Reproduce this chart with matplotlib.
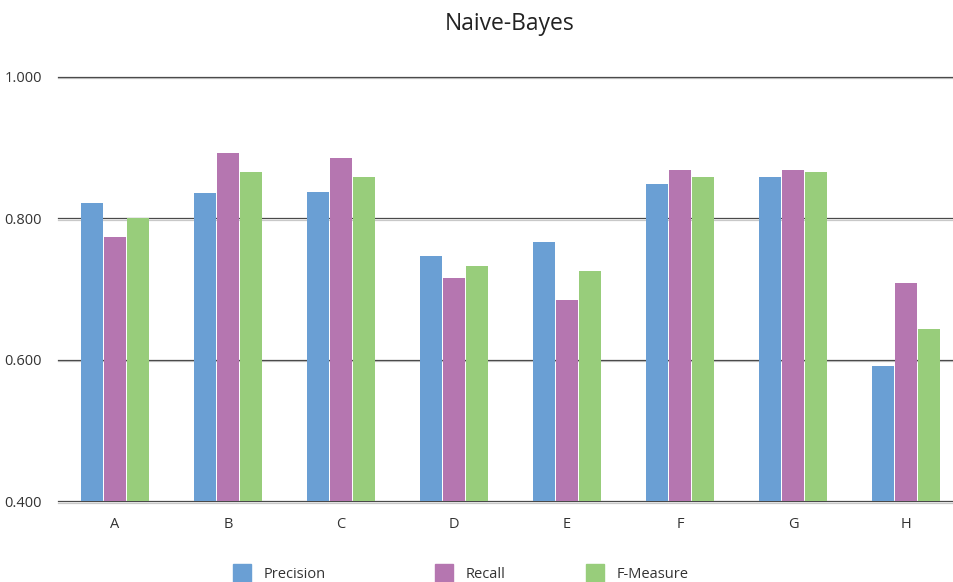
import matplotlib.pyplot as plt
from matplotlib.patches import Rectangle
import numpy as np

plt.rcParams["font.family"] = ["Open Sans", "DejaVu Sans"]

categories = ["A", "B", "C", "D", "E", "F", "G", "H"]
precision = [0.822, 0.836, 0.838, 0.747, 0.767, 0.849, 0.859, 0.592]
recall = [0.774, 0.893, 0.886, 0.716, 0.685, 0.868, 0.868, 0.709]
f_measure = [0.800, 0.866, 0.859, 0.733, 0.726, 0.859, 0.866, 0.643]
y_ticks = [0.4, 0.6, 0.8, 1.0]

series = [
    ("Precision", precision, "#6a9fd4"),
    ("Recall", recall, "#b576b0"),
    ("F-Measure", f_measure, "#98cd7b"),
]

fig = plt.figure(figsize=(9.54, 5.82), dpi=100)
# axes run past the right edge on purpose: last slot is clipped by the figure
ax = fig.add_axes([58.5 / 954, 80.7 / 582, 904 / 954, 424.3 / 582])

x = np.arange(len(categories))
step = 0.2
for i, (name, values, color) in enumerate(series):
    ax.bar(x + (i - 1) * step, np.array(values) - 0.4, bottom=0.4, width=0.193,
           color=color, edgecolor="none", zorder=3)

# grid lines: dark line with a faint shadow just under it
for y in y_ticks:
    ax.axhline(y - 0.0018, color="#c8c8c8", linewidth=0.9, zorder=1, clip_on=False)
    ax.axhline(y, color="#4a4a4a", linewidth=0.9, zorder=2, clip_on=False)

ax.set_xlim(-0.5, len(categories) - 0.5)
ax.set_ylim(0.4, 1.0)
ax.set_yticks(y_ticks)
ax.set_yticklabels([f"{v:.3f}" for v in y_ticks], fontsize=10.5, color="#333333")
ax.set_xticks(x)
ax.set_xticklabels(categories, fontsize=10.5, color="#333333")
ax.tick_params(axis="both", length=0)
ax.tick_params(axis="y", pad=12)
ax.tick_params(axis="x", pad=11)
for spine in ax.spines.values():
    spine.set_visible(False)

fig.text(510 / 954, 1 - 24 / 582, "Naive-Bayes", ha="center", va="center",
         fontsize=16.5, color="#222222")

# legend row along the bottom edge
legend_x = [233, 435, 586]
for (name, _, color), lx in zip(series, legend_x):
    fig.patches.append(Rectangle((lx / 954, 0), 18 / 954, 18 / 582,
                                 transform=fig.transFigure, color=color))
    fig.text((lx + 31) / 954, 1 - 574 / 582, name, ha="left", va="center",
             fontsize=10.5, color="#333333")

fig.savefig("out.png", dpi=100)
